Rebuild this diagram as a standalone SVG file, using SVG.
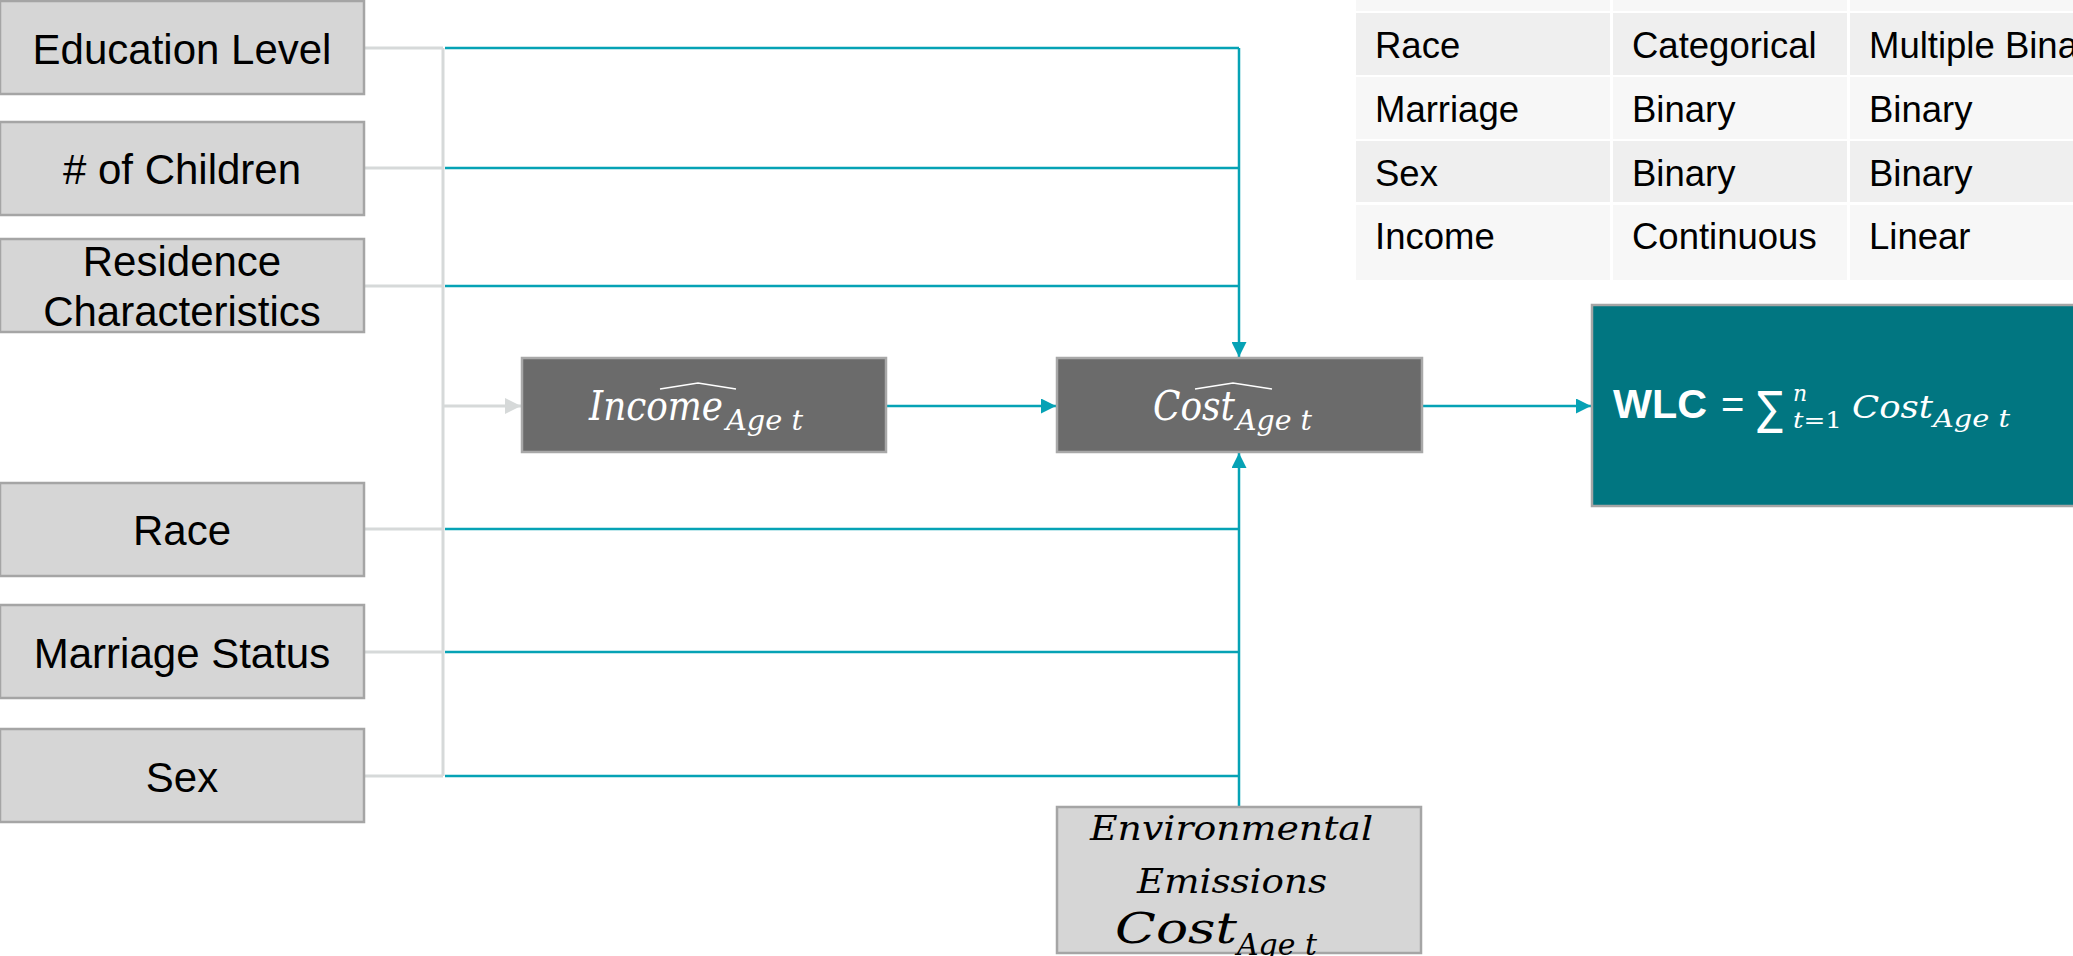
<svg xmlns="http://www.w3.org/2000/svg" width="2073" height="956" viewBox="0 0 2073 956">
  <defs>
    <style>
      .in { fill: #d6d6d6; stroke: #a5a5a5; stroke-width: 2.5; }
      .dk { fill: #6b6b6b; stroke: #a8a8a8; stroke-width: 2.5; }
      .lbl { font-family: "Liberation Sans", Arial, sans-serif; font-size: 42px; fill: #000; text-anchor: middle; }
      .cell { font-family: "Liberation Sans", Arial, sans-serif; font-size: 36.5px; fill: #000; }
      .math { font-family: "DejaVu Serif", "Liberation Serif", serif; font-style: italic; }
      .gl { fill: none; stroke: #d6d9d9; stroke-width: 3; }
      .tl { fill: none; stroke: #06a2b5; stroke-width: 2.5; }
      .hat { fill: none; stroke: #ffffff; stroke-width: 1.6; }
    </style>
    <marker id="ahTeal" viewBox="0 0 10 10" refX="10" refY="5" markerWidth="6" markerHeight="6" markerUnits="strokeWidth" orient="auto">
      <path d="M0,0 L10,5 L0,10 Z" fill="#06a2b5"/>
    </marker>
    <marker id="ahGray" viewBox="0 0 10 10" refX="10" refY="5" markerWidth="5.5" markerHeight="5.5" markerUnits="strokeWidth" orient="auto">
      <path d="M0,0 L10,5 L0,10 Z" fill="#d6d9d9"/>
    </marker>
  </defs>

  <rect width="2073" height="956" fill="#ffffff"/>

  <!-- variable table -->
  <g id="table">
    <rect x="1356" y="-2" width="254" height="13" fill="#f7f7f7"/>
    <rect x="1613" y="-2" width="234" height="13" fill="#f7f7f7"/>
    <rect x="1850" y="-2" width="230" height="13" fill="#f7f7f7"/>

    <rect x="1356" y="13" width="254" height="62" fill="#efefef"/>
    <rect x="1613" y="13" width="234" height="62" fill="#efefef"/>
    <rect x="1850" y="13" width="230" height="62" fill="#efefef"/>

    <rect x="1356" y="77" width="254" height="62" fill="#f7f7f7"/>
    <rect x="1613" y="77" width="234" height="62" fill="#f7f7f7"/>
    <rect x="1850" y="77" width="230" height="62" fill="#f7f7f7"/>

    <rect x="1356" y="141" width="254" height="61" fill="#efefef"/>
    <rect x="1613" y="141" width="234" height="61" fill="#efefef"/>
    <rect x="1850" y="141" width="230" height="61" fill="#efefef"/>

    <rect x="1356" y="205" width="254" height="75" fill="#f7f7f7"/>
    <rect x="1613" y="205" width="234" height="75" fill="#f7f7f7"/>
    <rect x="1850" y="205" width="230" height="75" fill="#f7f7f7"/>

    <text class="cell" x="1375" y="58">Race</text>
    <text class="cell" x="1632" y="58">Categorical</text>
    <text class="cell" x="1869" y="58">Multiple Binary</text>

    <text class="cell" x="1375" y="122">Marriage</text>
    <text class="cell" x="1632" y="122">Binary</text>
    <text class="cell" x="1869" y="122">Binary</text>

    <text class="cell" x="1375" y="186">Sex</text>
    <text class="cell" x="1632" y="186">Binary</text>
    <text class="cell" x="1869" y="186">Binary</text>

    <text class="cell" x="1375" y="249">Income</text>
    <text class="cell" x="1632" y="249">Continuous</text>
    <text class="cell" x="1869" y="249">Linear</text>
  </g>

  <!-- connectors -->
  <g id="connectors">
    <!-- gray collector from the input boxes -->
    <path class="gl" d="M364,48 H443 M364,168 H443 M364,286 H443 M364,529 H443 M364,652 H443 M364,776 H443 M443,48 V776"/>
    <path class="gl" d="M443,406 H521" marker-end="url(#ahGray)"/>

    <!-- teal direct paths into the cost node -->
    <path class="tl" d="M445,48 H1239 M445,168 H1239 M445,286 H1239"/>
    <path class="tl" d="M1239,48 V357" marker-end="url(#ahTeal)"/>
    <path class="tl" d="M445,529 H1239 M445,652 H1239 M445,776 H1239"/>
    <path class="tl" d="M1239,806 V453" marker-end="url(#ahTeal)"/>

    <path class="tl" d="M886,406 H1056" marker-end="url(#ahTeal)"/>
    <path class="tl" d="M1422,406 H1591" marker-end="url(#ahTeal)"/>
  </g>

  <!-- input variables -->
  <g id="education">
    <rect class="in" x="0" y="1" width="364" height="93"/>
    <text class="lbl" x="182" y="64">Education Level</text>
  </g>
  <g id="children">
    <rect class="in" x="0" y="122" width="364" height="93"/>
    <text class="lbl" x="182" y="184"># of Children</text>
  </g>
  <g id="residence">
    <rect class="in" x="0" y="239" width="364" height="93"/>
    <text class="lbl" x="182" y="276">Residence</text>
    <text class="lbl" x="182" y="326">Characteristics</text>
  </g>
  <g id="race">
    <rect class="in" x="0" y="483" width="364" height="93"/>
    <text class="lbl" x="182" y="545">Race</text>
  </g>
  <g id="marriage">
    <rect class="in" x="0" y="605" width="364" height="93"/>
    <text class="lbl" x="182" y="668">Marriage Status</text>
  </g>
  <g id="sex">
    <rect class="in" x="0" y="729" width="364" height="93"/>
    <text class="lbl" x="182" y="792">Sex</text>
  </g>

  <!-- predicted income -->
  <g id="income">
    <rect class="dk" x="522" y="358" width="364" height="94"/>
    <text class="math" fill="#ffffff">
      <tspan x="589" y="420" font-size="41" textLength="134" lengthAdjust="spacingAndGlyphs">Income</tspan>
      <tspan x="726" y="430" font-size="28" textLength="77" lengthAdjust="spacingAndGlyphs">Age t</tspan>
    </text>
    <path class="hat" d="M660,389 L698,383 L736,389"/>
  </g>

  <!-- predicted cost -->
  <g id="cost">
    <rect class="dk" x="1057" y="358" width="365" height="94"/>
    <text class="math" fill="#ffffff">
      <tspan x="1153" y="420" font-size="41" textLength="82" lengthAdjust="spacingAndGlyphs">Cost</tspan>
      <tspan x="1236" y="430" font-size="28" textLength="76" lengthAdjust="spacingAndGlyphs">Age t</tspan>
    </text>
    <path class="hat" d="M1195,389 L1233,383 L1272,389"/>
  </g>

  <!-- environmental emissions cost -->
  <g id="environmental">
    <rect class="in" x="1057" y="807" width="364" height="146"/>
    <text class="math" fill="#000000">
      <tspan x="1090" y="840" font-size="34" textLength="283" lengthAdjust="spacingAndGlyphs">Environmental</tspan>
      <tspan x="1137" y="893" font-size="34" textLength="190" lengthAdjust="spacingAndGlyphs">Emissions</tspan>
      <tspan x="1115" y="943" font-size="42" textLength="122" lengthAdjust="spacingAndGlyphs">Cost</tspan>
      <tspan x="1237" y="955" font-size="30" textLength="80" lengthAdjust="spacingAndGlyphs">Age t</tspan>
    </text>
  </g>

  <!-- whole-life cost -->
  <g id="wlc">
    <rect x="1592" y="305" width="500" height="201" fill="#017681" stroke="#a5a5a5" stroke-width="2.5"/>
    <text fill="#ffffff" font-family="Liberation Sans, Arial, sans-serif">
      <tspan x="1613" y="418" font-size="40" font-weight="bold" textLength="94" lengthAdjust="spacingAndGlyphs">WLC</tspan>
      <tspan x="1721" y="418" font-size="40">=</tspan>
    </text>
    <text fill="#ffffff" font-family="DejaVu Sans, sans-serif" font-size="46" x="1757" y="424" textLength="26" lengthAdjust="spacingAndGlyphs">∑</text>
    <text fill="#ffffff" font-family="DejaVu Serif, Liberation Serif, serif">
      <tspan x="1793" y="401" font-size="22" font-style="italic">n</tspan>
      <tspan x="1793" y="428" font-size="22" textLength="49" lengthAdjust="spacingAndGlyphs"><tspan font-style="italic">t</tspan>=1</tspan>
      <tspan x="1852" y="418" font-size="32" font-style="italic" textLength="81" lengthAdjust="spacingAndGlyphs">Cost</tspan>
      <tspan x="1933" y="427" font-size="24" font-style="italic" textLength="77" lengthAdjust="spacingAndGlyphs">Age t</tspan>
    </text>
  </g>
</svg>
